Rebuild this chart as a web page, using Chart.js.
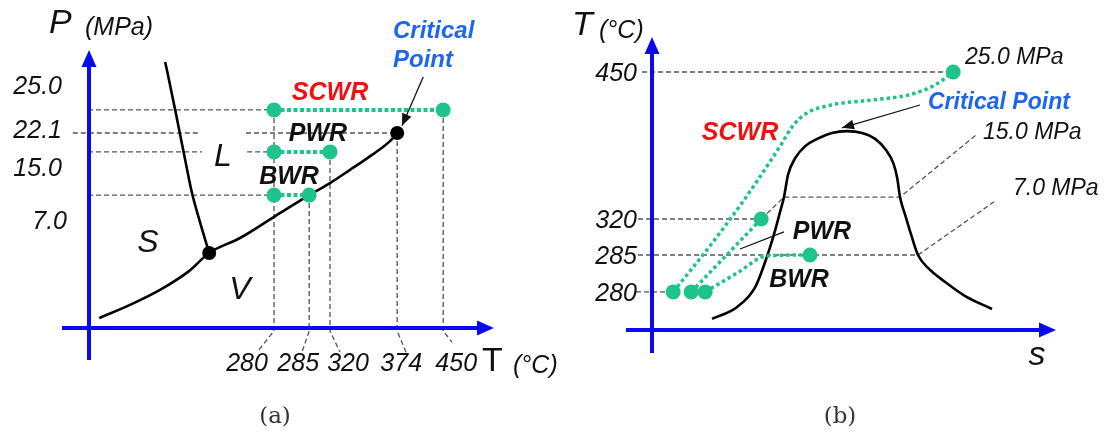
<!DOCTYPE html>
<html>
<head>
<meta charset="utf-8">
<script src="https://cdn.jsdelivr.net/npm/chart.js@4.4.1/dist/chart.umd.min.js"></script>
<style>
  html, body { margin: 0; padding: 0; background: #fff; }
  #wrap { position: relative; width: 1105px; height: 434px; overflow: hidden; }
  .panel { position: absolute; top: 0; }
  .caption { position: absolute; top: 402px; font: 23px "DejaVu Serif", serif; color: #333; transform: translateX(-50%); }
</style>
</head>
<body>
<div id="wrap">
  <canvas id="chartA" class="panel" width="560" height="434" style="left:0"></canvas>
  <canvas id="chartB" class="panel" width="545" height="434" style="left:560px"></canvas>
  <div class="caption" style="left:275px">(a)</div>
  <div class="caption" style="left:840px">(b)</div>
</div>
<script>
// ---------- (a) P-T phase diagram (schematic axis units 0..100) ----------
const tempTicksA = ['280', '285', '320', '374', '450'];
const tempPosA = [46, 54.8, 60, 76.8, 88.3];
const presTicksA = ['25.0', '22.1', '15.0', '7.0'];
const presPosA = [72.7, 65, 58.7, 44.3];
const meltCurveA = [[18.8, 88.7], [21.3, 72.7], [23.8, 56], [25.5, 45], [27.5, 35.3], [29.8, 25]];
const vaporCurveA = [[2.3, 3.3], [10, 7.7], [17.5, 12.7], [24.5, 18.7], [29.8, 25], [37.5, 30], [46.3, 37.3],
  [54.8, 44.3], [60, 48.3], [65, 52.7], [70.5, 57.7], [75, 62.3], [76.8, 65]];
const triplePointA = [29.8, 25];

// ---------- (b) T-s diagram ----------
const tempTicksB = ['450', '320', '285', '280'];
const tempPosB = [86, 37, 25, 12.7];
const domeCurveB = [[15, 3.7], [21.3, 7.7], [25.8, 14.3], [28.8, 24.7], [30.8, 33.3], [32, 39.3], [33, 44.3],
  [34, 51.7], [35.8, 57.3], [38.3, 61.3], [41.3, 63.7], [45, 65.7], [48.8, 66.3], [52.5, 65.7], [55.8, 63.7],
  [58.5, 60], [60.3, 55.7], [61.3, 50.7], [62, 44.3], [63.3, 38.3], [64.8, 31.7], [66.5, 25], [69, 20.7],
  [73.3, 16], [78.3, 11.3], [85, 7]];
const scwrPathB = [[5.3, 12.7], [14.3, 27.7], [23, 43.3], [29.3, 55.7], [32.5, 62.3], [35, 67.7], [38.3, 72],
  [44.8, 75], [55.3, 76.7], [64, 78.3], [70.8, 81.7], [75.3, 86]];
const pwrPathB = [[9.8, 12.7], [27.3, 37]];
const bwrPathB = [[13.3, 12.7], [21.3, 19], [28.8, 24.7], [39.5, 25]];
const isobarLabelsB = ['25.0 MPa', '15.0 MPa', '7.0 MPa'];

const BLUE = '#0a0af0';
const GREEN = '#1fc48d';
const GRAY = '#555';
const RED = '#ee1111';
const CP_BLUE = '#1f66ee';
const FONT = '"Liberation Sans", Arial, sans-serif';

const pts = arr => arr.map(([x, y]) => ({ x, y }));
const dashed = arr => ({ data: pts(arr), showLine: true, borderColor: GRAY, borderWidth: 1.3,
  borderDash: [5, 3], pointRadius: 0, tension: 0, order: 5, clip: false });
const curve = arr => ({ data: pts(arr), showLine: true, borderColor: '#000', borderWidth: 2.6,
  pointRadius: 0, cubicInterpolationMode: 'monotone', order: 3, clip: false });
const dotted = arr => ({ data: pts(arr), showLine: true, borderColor: GREEN, borderWidth: 4,
  borderDash: [4, 2.5], pointRadius: 0, cubicInterpolationMode: 'monotone', order: 2, clip: false });
const dots = (arr, color, r) => ({ data: pts(arr), showLine: false, pointRadius: r, pointHoverRadius: r,
  pointBackgroundColor: color, pointBorderColor: color, pointBorderWidth: 0, order: 1, clip: false });

function baseOptions(padding) {
  return {
    responsive: false, animation: false, events: [],
    layout: { padding },
    scales: {
      x: { type: 'linear', min: 0, max: 100, display: false },
      y: { type: 'linear', min: 0, max: 100, display: false }
    },
    plugins: { legend: { display: false }, tooltip: { enabled: false } }
  };
}

function text(ctx, str, x, y, size, opts = {}) {
  ctx.font = (opts.style || 'italic') + ' ' + (opts.weight || 'normal') + ' ' + size + 'px ' + FONT;
  ctx.fillStyle = opts.color || '#111';
  ctx.textAlign = opts.align || 'center';
  ctx.textBaseline = 'middle';
  ctx.fillText(str, x, y);
}

function drawAxes(ctx, ax, ay, ext) {
  ctx.strokeStyle = BLUE; ctx.fillStyle = BLUE; ctx.lineWidth = 4;
  ctx.beginPath();
  ctx.moveTo(ax, ext.yBottom); ctx.lineTo(ax, ext.yTop + 14);
  ctx.moveTo(ext.xLeft, ay); ctx.lineTo(ext.xRight - 14, ay);
  ctx.stroke();
  ctx.beginPath();
  ctx.moveTo(ax, ext.yTop); ctx.lineTo(ax - 7.5, ext.yTop + 17); ctx.lineTo(ax + 7.5, ext.yTop + 17); ctx.closePath();
  ctx.moveTo(ext.xRight, ay); ctx.lineTo(ext.xRight - 17, ay - 7.5); ctx.lineTo(ext.xRight - 17, ay + 7.5); ctx.closePath();
  ctx.fill();
}

function arrow(ctx, x0, y0, x1, y1) {
  ctx.strokeStyle = '#111'; ctx.fillStyle = '#111'; ctx.lineWidth = 1.3;
  ctx.beginPath(); ctx.moveTo(x0, y0); ctx.lineTo(x1, y1); ctx.stroke();
  const a = Math.atan2(y1 - y0, x1 - x0), L = 12, W = 5;
  ctx.beginPath();
  ctx.moveTo(x1, y1);
  ctx.lineTo(x1 - L * Math.cos(a) + W * Math.sin(a), y1 - L * Math.sin(a) - W * Math.cos(a));
  ctx.lineTo(x1 - L * Math.cos(a) - W * Math.sin(a), y1 - L * Math.sin(a) + W * Math.cos(a));
  ctx.closePath(); ctx.fill();
}

// ---------------- chart (a) ----------------
const critA = [tempPosA[3], presPosA[1]];
const scwrA = [[tempPosA[0], presPosA[0]], [tempPosA[4], presPosA[0]]];
const pwrA = [[tempPosA[0], presPosA[2]], [tempPosA[2], presPosA[2]]];
const bwrA = [[tempPosA[0], presPosA[3]], [tempPosA[1], presPosA[3]]];
const topOfTempLine = [presPosA[0], presPosA[3], presPosA[2], presPosA[1], presPosA[0]];
const leaderEndA = [[41.8, -8], [53, -8], [62.5, -8], [79.3, -9], [90.5, -4.7]];

const dsA = [
  dots([...scwrA, ...pwrA, ...bwrA], GREEN, 7.5),
  dots([critA, triplePointA], '#000', 7),
  dotted(scwrA), dotted(pwrA), dotted(bwrA),
  curve(meltCurveA), curve(vaporCurveA),
  dashed([[-4.3, 75.3], [-0.5, presPosA[0]], scwrA[0]]),
  dashed([[-4.3, presPosA[1]], [27.5, presPosA[1]]]),
  dashed([[39, presPosA[1]], critA]),
  dashed([[-4.3, 56], [-0.5, presPosA[2]], [28, presPosA[2]]]),
  dashed([[39.3, presPosA[2]], pwrA[0]]),
  dashed([[-5, 38.3], [-0.5, presPosA[3]], bwrA[0]])
];
tempPosA.forEach((t, i) => dsA.push(dashed([[t, topOfTempLine[i]], [t, -1], leaderEndA[i]])));

const decorA = {
  id: 'decorA',
  afterDatasetsDraw(chart) {
    const { ctx, scales: { x, y } } = chart;
    ctx.save();
    drawAxes(ctx, x.getPixelForValue(0) - 1, y.getPixelForValue(0), { yTop: 50, yBottom: 360, xLeft: 62, xRight: 494 });
    // pressure tick labels
    const presDy = [-23, -2, 17, 27], presRight = [62, 62, 62, 67];
    presTicksA.forEach((s, i) => text(ctx, s, presRight[i], y.getPixelForValue(presPosA[i]) + presDy[i], 25, { align: 'right' }));
    // temperature tick labels
    const tempDx = [-27, -11, 18, 4, 13];
    tempTicksA.forEach((s, i) => text(ctx, s, x.getPixelForValue(tempPosA[i]) + tempDx[i], 364, 25));
    text(ctx, 'P', 49, 24, 34, { align: 'left' });
    text(ctx, '(MPa)', 85, 28, 25, { align: 'left' });
    text(ctx, 'T', 482, 362, 34, { align: 'left', style: 'normal' });
    text(ctx, '(°C)', 513, 366, 25, { align: 'left' });
    text(ctx, 'S', 148, 243, 32);
    text(ctx, 'L', 223, 157, 32);
    text(ctx, 'V', 240, 290, 32);
    text(ctx, 'SCWR', 330, 93, 25, { weight: 'bold', color: RED });
    text(ctx, 'PWR', 318, 134, 25, { weight: 'bold' });
    text(ctx, 'BWR', 289, 177, 25, { weight: 'bold' });
    text(ctx, 'Critical', 393, 31, 24, { weight: 'bold', color: CP_BLUE, align: 'left' });
    text(ctx, 'Point', 393, 60, 24, { weight: 'bold', color: CP_BLUE, align: 'left' });
    arrow(ctx, x.getPixelForValue(83.3), y.getPixelForValue(83.7), x.getPixelForValue(78), y.getPixelForValue(67.4));
    ctx.restore();
  }
};

new Chart(document.getElementById('chartA'), {
  type: 'scatter',
  data: { datasets: dsA },
  options: baseOptions({ left: 90, right: 70, top: 28, bottom: 106 }),
  plugins: [decorA]
});

// ---------------- chart (b) ----------------
const firstPt = a => a[0], lastPt = a => a[a.length - 1];
const dsB = [
  dots([firstPt(scwrPathB), firstPt(pwrPathB), firstPt(bwrPathB), lastPt(scwrPathB), lastPt(pwrPathB), lastPt(bwrPathB)], GREEN, 7.5),
  dotted(scwrPathB), dotted(pwrPathB), dotted(bwrPathB),
  curve(domeCurveB),
  dashed([[-2.5, tempPosB[0]], lastPt(scwrPathB)]),
  dashed([[-3.5, tempPosB[1]], lastPt(pwrPathB)]),
  dashed([lastPt(pwrPathB), [33, 44.3], [62, 44.3], [81.3, 65.3]]),
  dashed([[-3.5, tempPosB[2]], [66.5, tempPosB[2]], [85.8, 43]]),
  dashed([[-4, tempPosB[3]], firstPt(scwrPathB)])
];
dsB.forEach(d => { if (d.borderColor === GREEN) { d.borderWidth = 3.5; d.borderDash = [3.5, 3]; } });

const decorB = {
  id: 'decorB',
  afterDatasetsDraw(chart) {
    const { ctx, scales: { x, y } } = chart;
    ctx.save();
    drawAxes(ctx, x.getPixelForValue(0), y.getPixelForValue(0), { yTop: 37, yBottom: 353, xLeft: 66, xRight: 496 });
    tempTicksB.forEach((s, i) => text(ctx, s, 77, y.getPixelForValue(tempPosB[i]) + 2, 25, { align: 'right' }));
    text(ctx, 'T', 12, 26, 34, { align: 'left' });
    text(ctx, '(°C)', 39, 31, 25, { align: 'left' });
    text(ctx, 's', 477, 356, 34);
    const isoX = [405, 423, 453], isoY = [58, 133, 189];
    isobarLabelsB.forEach((s, i) => text(ctx, s, isoX[i], isoY[i], 23, { align: 'left' }));
    text(ctx, 'Critical Point', 368, 103, 23, { weight: 'bold', color: CP_BLUE, align: 'left' });
    text(ctx, 'SCWR', 180, 133, 25, { weight: 'bold', color: RED });
    text(ctx, 'PWR', 262, 232, 25, { weight: 'bold' });
    text(ctx, 'BWR', 239, 280, 25, { weight: 'bold' });
    arrow(ctx, x.getPixelForValue(67), y.getPixelForValue(75), x.getPixelForValue(47.5), y.getPixelForValue(67.4));
    ctx.strokeStyle = '#111'; ctx.lineWidth = 1.2;
    ctx.beginPath();
    ctx.moveTo(x.getPixelForValue(22), y.getPixelForValue(27));
    ctx.lineTo(x.getPixelForValue(33), y.getPixelForValue(32.7));
    ctx.stroke();
    ctx.restore();
  }
};

new Chart(document.getElementById('chartB'), {
  type: 'scatter',
  data: { datasets: dsB },
  options: baseOptions({ left: 92, right: 53, top: 30, bottom: 104 }),
  plugins: [decorB]
});
</script>
</body>
</html>
